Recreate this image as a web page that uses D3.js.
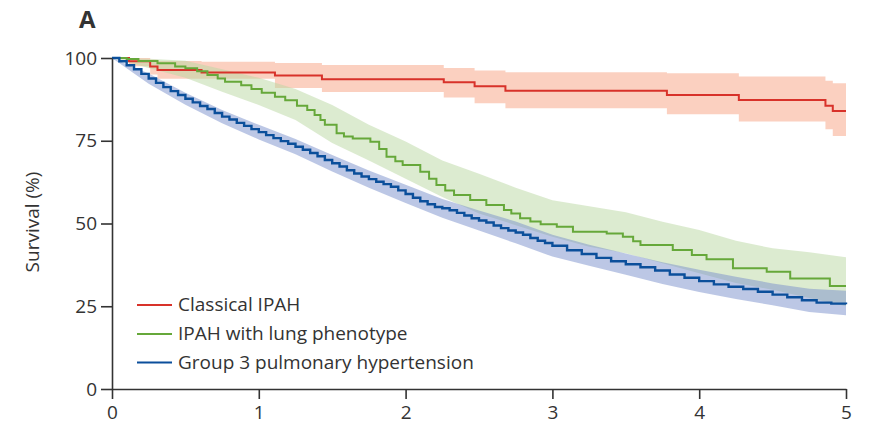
<!DOCTYPE html>
<html>
<head>
<meta charset="utf-8">
<script src="https://cdn.jsdelivr.net/npm/d3@7"></script>
<style>
  html, body { margin: 0; padding: 0; background: #fff; }
  svg { display: block; }
  text { font-family: "Open Sans", "Noto Sans", sans-serif; fill: #333; }
</style>
</head>
<body>
<svg id="chart" width="869" height="426"></svg>
<script>
// ---- Data ----
const xTicks = [0, 1, 2, 3, 4, 5];
const yTicks = [0, 25, 50, 75, 100];
const seriesNames = ["Classical IPAH", "IPAH with lung phenotype", "Group 3 pulmonary hypertension"];

// Classical IPAH (Kaplan-Meier steps)
const classicalTime  = [0, 0.116, 0.26, 0.31, 0.61, 1.11, 1.43, 2.26, 2.47, 2.68, 3.78, 4.27, 4.86, 4.91, 5.0];
const classicalSurv  = [100, 99.0, 97.4, 96.4, 95.6, 94.7, 93.6, 92.7, 91.5, 90.1, 88.8, 87.3, 85.6, 84.0, 84.0];
const classicalLower = [100, 97.5, 95.0, 93.7, 93.7, 90.9, 89.7, 88.1, 86.3, 84.8, 83.0, 80.8, 78.5, 76.4, 76.4];
const classicalUpper = [100, 100, 99.5, 99.1, 98.9, 98.5, 97.9, 97.0, 96.2, 95.7, 95.4, 94.4, 93.1, 92.4, 92.4];

// IPAH with lung phenotype
const lungTime = [0, 0.1, 0.18, 0.31, 0.43, 0.5, 0.58, 0.65, 0.72, 0.77, 0.88, 0.95, 1.02, 1.11, 1.18, 1.26, 1.33, 1.38, 1.42, 1.45, 1.53, 1.58, 1.64, 1.76, 1.82, 1.87, 1.93, 1.98, 2.1, 2.16, 2.21, 2.27, 2.33, 2.44, 2.55, 2.67, 2.72, 2.78, 2.85, 2.92, 3.03, 3.14, 3.37, 3.48, 3.55, 3.6, 3.82, 3.95, 4.05, 4.23, 4.46, 4.62, 4.89, 5.0];
const lungSurv = [100, 99.7, 99.1, 98.4, 97.4, 96.9, 96.0, 94.9, 93.8, 92.8, 91.8, 90.6, 89.5, 88.3, 87.2, 85.6, 84.3, 82.8, 81.3, 79.8, 77.3, 76.3, 75.7, 74.7, 72.5, 70.2, 68.8, 67.7, 65.6, 63.5, 61.6, 60.0, 58.6, 57.1, 55.6, 54.1, 53.0, 51.6, 50.6, 49.8, 49.0, 47.5, 47.0, 46.0, 44.6, 43.5, 42.0, 40.5, 39.2, 36.5, 35.4, 33.4, 31.1, 31.1];
const lungBandTime = [0, 0.25, 0.5, 0.75, 1.0, 1.25, 1.5, 1.75, 2.0, 2.25, 2.5, 2.75, 3.0, 3.25, 3.5, 3.75, 4.0, 4.25, 4.5, 4.75, 5.0];
const lungLower = [100, 97.0, 94.0, 89.8, 85.8, 81.3, 74.3, 69.0, 63.5, 58.0, 53.0, 49.5, 46.0, 43.0, 41.0, 38.0, 35.0, 32.0, 30.0, 27.5, 25.0];
const lungUpper = [100, 99.8, 99.2, 96.6, 94.0, 90.6, 85.8, 79.8, 74.8, 69.0, 65.0, 60.8, 57.0, 55.2, 53.4, 50.5, 48.0, 44.8, 42.5, 41.3, 39.8];

// Group 3 pulmonary hypertension
const group3Time = [0, 0.05, 0.1, 0.15, 0.2, 0.25, 0.3, 0.35, 0.4, 0.45, 0.5, 0.55, 0.6, 0.65, 0.7, 0.75, 0.8, 0.85, 0.9, 0.95, 1.0, 1.05, 1.1, 1.15, 1.2, 1.25, 1.3, 1.35, 1.4, 1.45, 1.5, 1.55, 1.6, 1.65, 1.7, 1.75, 1.8, 1.85, 1.9, 1.95, 2.0, 2.05, 2.1, 2.15, 2.2, 2.25, 2.3, 2.35, 2.4, 2.45, 2.5, 2.55, 2.6, 2.65, 2.7, 2.75, 2.8, 2.85, 2.9, 2.95, 3.0, 3.1, 3.2, 3.3, 3.4, 3.5, 3.6, 3.7, 3.8, 3.9, 4.0, 4.1, 4.2, 4.3, 4.4, 4.5, 4.6, 4.7, 4.8, 4.9, 5.0];
const group3Surv = [100, 99.0, 97.8, 96.6, 95.2, 93.8, 92.5, 91.2, 90.0, 88.8, 87.7, 86.6, 85.5, 84.6, 83.4, 82.3, 81.4, 80.4, 79.5, 78.5, 77.6, 76.7, 75.8, 74.9, 74.1, 73.2, 72.3, 71.3, 70.3, 69.2, 68.2, 67.2, 66.1, 65.1, 64.2, 63.4, 62.6, 61.9, 61.1, 60.0, 58.9, 57.8, 56.7, 55.8, 55.0, 54.6, 54.0, 53.2, 52.4, 51.6, 50.9, 50.3, 49.4, 48.6, 47.9, 47.3, 46.6, 45.6, 44.8, 44.1, 43.3, 41.9, 40.8, 39.6, 38.6, 37.7, 36.8, 35.8, 34.6, 33.6, 32.6, 31.6, 30.9, 30.2, 29.4, 28.5, 27.7, 26.8, 26.1, 25.8, 25.6];
const group3BandTime = [0, 0.25, 0.5, 0.75, 1.0, 1.25, 1.5, 1.75, 2.0, 2.25, 2.5, 2.75, 3.0, 3.25, 3.5, 3.75, 4.0, 4.25, 4.5, 4.75, 5.0];
const group3Lower = [100, 92.2, 85.9, 80.3, 75.4, 70.9, 65.7, 60.8, 56.2, 51.7, 47.9, 44.0, 40.0, 37.2, 34.5, 31.7, 29.3, 27.2, 25.3, 23.3, 22.3];
const group3Upper = [100, 95.3, 89.5, 84.3, 79.8, 75.5, 70.7, 66.0, 61.7, 57.4, 53.9, 50.6, 46.6, 43.6, 40.9, 38.3, 36.0, 33.9, 31.9, 30.3, 29.7];

// ---- Drawing ----
const svg = d3.select("#chart");
const x = d3.scaleLinear().domain([0, 5]).range([112, 846]);
const y = d3.scaleLinear().domain([0, 100]).range([389, 58]);

const colors = { red: "#d8322a", green: "#66a83a", blue: "#0b4f9b" };
const bandFill = { red: "#f7a181", green: "#b9d8a2", blue: "#7a8fcc" };

function band(times, lo, hi, curve) {
  const pts = times.map((t, i) => ({ t, lo: lo[i], hi: hi[i] }));
  return d3.area().curve(curve).x(d => x(d.t)).y0(d => y(d.lo)).y1(d => y(d.hi))(pts);
}
function line(times, s) {
  const pts = times.map((t, i) => ({ t, s: s[i] }));
  return d3.line().curve(d3.curveStepAfter).x(d => x(d.t)).y(d => y(d.s))(pts);
}

const g = svg.append("g");
g.append("path").attr("d", band(classicalTime, classicalLower, classicalUpper, d3.curveStepAfter))
  .attr("fill", bandFill.red).attr("fill-opacity", 0.5);
g.append("path").attr("d", band(lungBandTime, lungLower, lungUpper, d3.curveLinear))
  .attr("fill", bandFill.green).attr("fill-opacity", 0.5);
g.append("path").attr("d", band(group3BandTime, group3Lower, group3Upper, d3.curveLinear))
  .attr("fill", bandFill.blue).attr("fill-opacity", 0.5);

g.append("path").attr("d", line(classicalTime, classicalSurv)).attr("fill", "none")
  .attr("stroke", colors.red).attr("stroke-width", 2);
g.append("path").attr("d", line(lungTime, lungSurv)).attr("fill", "none")
  .attr("stroke", colors.green).attr("stroke-width", 2);
g.append("path").attr("d", line(group3Time, group3Surv)).attr("fill", "none")
  .attr("stroke", colors.blue).attr("stroke-width", 2.4);

// Axes
const xAxis = d3.axisBottom(x).tickValues(xTicks).tickFormat(d3.format("d")).tickSize(10).tickSizeOuter(0).tickPadding(7);
const yAxis = d3.axisLeft(y).tickValues(yTicks).tickFormat(d3.format("d")).tickSize(11).tickSizeOuter(0).tickPadding(4);

const gx = svg.append("g").attr("transform", "translate(0,389)").call(xAxis);
const gy = svg.append("g").attr("transform", "translate(112,0)").call(yAxis);
[gx, gy].forEach(a => {
  a.selectAll("path.domain").attr("stroke", "#333").attr("stroke-width", 1.6);
  a.selectAll(".tick line").attr("stroke", "#333").attr("stroke-width", 1.6);
  a.selectAll(".tick text").attr("font-size", 19).attr("fill", "#3a3a3a")
    .style("font-family", '"Open Sans", sans-serif');
});

// Y label
svg.append("text").attr("transform", "translate(39,222) rotate(-90)")
  .attr("text-anchor", "middle").attr("font-size", 19).attr("fill", "#3a3a3a").text("Survival (%)");

// Panel letter
svg.append("text").attr("x", 79).attr("y", 28).attr("font-size", 24)
  .attr("font-weight", "bold").attr("fill", "#222").text("A");

// Legend
const legendColors = [colors.red, colors.green, colors.blue];
const legendY = [305, 334, 362.5];
seriesNames.forEach((name, i) => {
  svg.append("line").attr("x1", 137).attr("x2", 172).attr("y1", legendY[i]).attr("y2", legendY[i])
    .attr("stroke", legendColors[i]).attr("stroke-width", 2);
  svg.append("text").attr("x", 178).attr("y", legendY[i] + 6).attr("font-size", 19)
    .attr("fill", "#3a3a3a").text(name);
});
</script>
</body>
</html>
